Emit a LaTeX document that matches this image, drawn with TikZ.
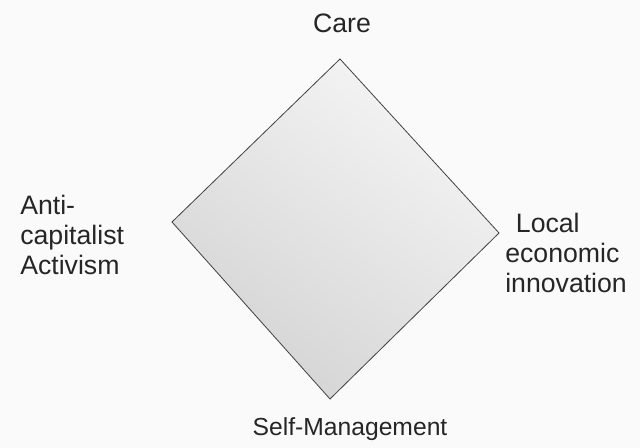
\documentclass[tikz,border=0pt]{standalone}
\usepackage{fontspec}
\setmainfont{Liberation Sans}
\usepackage{tikz}

\begin{document}
\begin{tikzpicture}[
      x=0.75pt, y=0.75pt,
      lbl/.style={inner sep=0pt, text=black!85, font=\fontsize{20}{22.5}\selectfont},
      corner/.style={lbl, align=left, anchor=north west}]
    \useasboundingbox[fill=black!2] (0,0) rectangle (640,448);
    \coordinate (top)    at (340,389);
    \coordinate (right)  at (499,215);
    \coordinate (bottom) at (330,49);
    \coordinate (left)   at (172,226);
    \shade[top color=black!4, bottom color=black!17, shading angle=-35]
      (top)--(right)--(bottom)--(left)--cycle;
    \draw[black!75, line width=0.6pt, line join=miter]
      (top)--(right)--(bottom)--(left)--cycle;
    \node[lbl, anchor=base] (care) at (342,415) {Care};
    \node[lbl, anchor=base, font=\fontsize{18.5}{22.5}\selectfont]
      (selfman) at (350,12) {Self-Management};
    \node[corner] (activism) at (20,253) {Anti-\\capitalist\\Activism};
    \node[corner] (innov) at (505,235) {\hspace*{0.4em}Local\\economic\\innovation};
  \end{tikzpicture}
\end{document}
